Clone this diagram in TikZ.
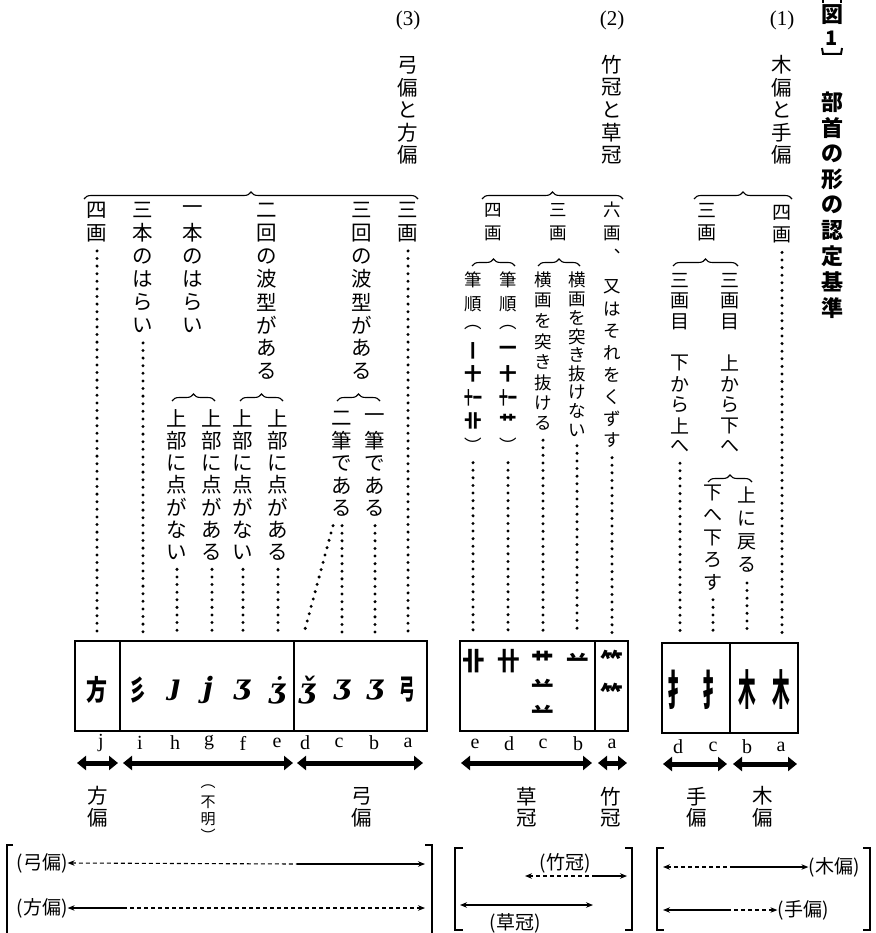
\documentclass[tikz,border=0pt]{standalone}
\usepackage{fontspec}
\usepackage{graphicx}
\setmainfont{Liberation Serif}
\newfontfamily\jp{Noto Sans CJK JP}
\newfontfamily\glf{DejaVu Serif}
\usetikzlibrary{arrows.meta,decorations.pathreplacing}
\makeatletter
\newcommand\vst[2]{\vbox{\offinterlineskip\@tfor\vch:=#2\do{\vbox to #1{\vss\hbox to 1em{\hss\vch\hss}\vss}}}}
\makeatother
\newcommand\gj[2][0.6]{\scalebox{#1}[1]{\jp\bfseries #2}}
\newcommand\gl[1]{{\glf\bfseries\itshape #1}}
\tikzset{
 vcol/.style={anchor=north, inner sep=0pt, font=\jp\fontsize{20.5}{20.5}\selectfont},
 vcolm/.style={anchor=north, inner sep=0pt, font=\jp\fontsize{19}{19}\selectfont},
 vcols/.style={anchor=north, inner sep=0pt, font=\jp\fontsize{17.5}{17.5}\selectfont},
 dotline/.style={line width=3.3pt, line cap=round, dash pattern=on 0pt off 7.6pt},
 brc/.style={decorate, decoration={brace, amplitude=7pt}, line width=1.1pt},
 bigarrow/.style={line width=5pt, {Triangle[length=9pt,width=14pt]}-{Triangle[length=9pt,width=14pt]}},
 lbl/.style={inner sep=0pt, font=\fontsize{21}{21}\selectfont},
 ltr/.style={inner sep=0pt, font=\fontsize{20}{20}\selectfont},
 gly/.style={inner sep=0pt, font=\fontsize{28}{28}\selectfont},
 gly2/.style={inner sep=0pt, font=\fontsize{25}{25}\selectfont},
 gly1/.style={inner sep=0pt, font=\fontsize{42}{42}\selectfont},
 bx/.style={line width=1.1pt},
 btxt/.style={inner sep=0pt, font=\jp\fontsize{19}{19}\selectfont},
 thinarr/.style={line width=1.1pt},
 dsh/.style={dash pattern=on 4pt off 3pt},
 tipl/.style={{Stealth[length=7pt,width=5.5pt]}-},
 tipr/.style={-{Stealth[length=7pt,width=5.5pt]}},
 tipb/.style={{Stealth[length=7pt,width=5.5pt]}-{Stealth[length=7pt,width=5.5pt]}},
 brk/.style={line width=1.3pt},
}
\begin{document}
\begin{tikzpicture}[x=1pt,y=-1pt]
\useasboundingbox (0,0) rectangle (875,933);

% ---------- title ----------
\node[inner sep=0pt, font=\jp\bfseries\fontsize{22}{22}\selectfont] (tz) at (832,15) {図};
\node[inner sep=0pt, font=\jp\bfseries\fontsize{20}{20}\selectfont] (tone) at (832,38) {1};
\draw[line width=2pt] (823,0) -- (823,3);
\draw[line width=2pt] (841,0) -- (841,3);
\draw[line width=2pt] (822,48) -- (823,54) -- (841,54) -- (842,48);
\node[anchor=north, inner sep=0pt, font=\jp\bfseries\fontsize{22}{22}\selectfont] (title) at (832,89.15) {\vst{25.7pt}{部首の形の認定基準}};

% ---------- headings ----------
\node[lbl] (n3) at (408,20) {(3)};
\node[lbl] (n2) at (612,20) {(2)};
\node[lbl] (n1) at (782,20) {(1)};
\node[vcol] (h3) at (408,53.75) {\vst{22.5pt}{弓偏と方偏}};
\node[vcol] (h2) at (612,53.75) {\vst{22.5pt}{竹冠と草冠}};
\node[vcol] (h1) at (782,53.75) {\vst{22.5pt}{木偏と手偏}};

% ---------- top braces ----------
\draw[brc] (84,199) -- (418,199);
\draw[brc] (482,199) -- (623,199);
\draw[brc] (694,199) -- (792,199);

% ---------- group 3 ----------
\coordinate (t3) at (0,633);
\node[vcol] (a3) at (408,198.5) {\vst{23pt}{三画}};
\node[vcol] (b3) at (362,198.5) {\vst{23pt}{三回の波型がある}};
\node[vcol] (ef3) at (267,198.5) {\vst{23pt}{二回の波型がある}};
\node[vcol] (gh3) at (193,198.5) {\vst{23pt}{一本のはらい}};
\node[vcol] (i3) at (143,198.5) {\vst{23pt}{三本のはらい}};
\node[vcol] (j3) at (97,198.5) {\vst{23pt}{四画}};

\draw[brc] (337,401) -- (380,401);
\draw[brc] (240,401) -- (283,401);
\draw[brc] (172,401) -- (215,401);

\node[vcol] (b3s) at (375,406.75) {\vst{22.5pt}{一筆である}};
\node[vcol] (cd3s) at (342,406.75) {\vst{22.5pt}{二筆である}};
\node[vcol] (e3s) at (278,406.85) {\vst{22.3pt}{上部に点がある}};
\node[vcol] (f3s) at (243,406.85) {\vst{22.3pt}{上部に点がない}};
\node[vcol] (g3s) at (212,406.85) {\vst{22.3pt}{上部に点がある}};
\node[vcol] (h3s) at (177,406.85) {\vst{22.3pt}{上部に点がない}};

\coordinate (d3top) at (304,633);
\draw[dotline] ([yshift=-6pt]a3.south) -- (a3.south |- t3);
\draw[dotline] ([yshift=-6pt]b3s.south) -- (b3s.south |- t3);
\draw[dotline] ([yshift=-6pt]cd3s.south) -- (cd3s.south |- t3);
\draw[dotline] ([xshift=-9pt,yshift=-6pt]cd3s.south) -- (d3top);
\draw[dotline] ([yshift=-6pt]e3s.south) -- (e3s.south |- t3);
\draw[dotline] ([yshift=-6pt]f3s.south) -- (f3s.south |- t3);
\draw[dotline] ([yshift=-6pt]g3s.south) -- (g3s.south |- t3);
\draw[dotline] ([yshift=-6pt]h3s.south) -- (h3s.south |- t3);
\draw[dotline] ([yshift=-6pt]i3.south) -- (i3.south |- t3);
\draw[dotline] ([yshift=-6pt]j3.south) -- (j3.south |- t3);

\draw[bx] (75,641) rectangle (427,731);
\draw[bx] (120,641) -- (120,731);
\draw[bx] (294,641) -- (294,731);

\node[gly] (g3j) at (97,690) {\gj[0.75]{方}};
\node[gly] (g3i) at (138,690) {\gj[0.6]{彡}};
\node[gly] (g3h) at (175,690) {\gl{ȷ}};
\node[gly] (g3g) at (208,690) {\gl{j}};
\node[gly] (g3f) at (242,690) {\gl{ʒ}};
\node[gly] (g3e) at (277,690) {\gl{ʒ̇}};
\node[gly] (g3d) at (307,690) {\gl{ǯ}};
\node[gly] (g3c) at (342,690) {\gl{ʒ}};
\node[gly] (g3b) at (375,690) {\gl{ʒ}};
\node[gly] (g3a) at (407,690) {\gj[0.55]{弓}};

\node[ltr] (l3j) at (101,743) {j};
\node[ltr] (l3i) at (140,743) {i};
\node[ltr] (l3h) at (175,743) {h};
\node[ltr] (l3g) at (209,743) {g};
\node[ltr] (l3f) at (243,743) {f};
\node[ltr] (l3e) at (277,743) {e};
\node[ltr] (l3d) at (305,743) {d};
\node[ltr] (l3c) at (339,743) {c};
\node[ltr] (l3b) at (374,743) {b};
\node[ltr] (l3a) at (408,743) {a};

\coordinate (r3a) at (77,763); \coordinate (r3b) at (118,763);
\coordinate (r3c) at (123,763); \coordinate (r3d) at (293,763);
\coordinate (r3e) at (297,763); \coordinate (r3f) at (423,763);
\draw[bigarrow] (r3a) -- (r3b);
\draw[bigarrow] (r3c) -- (r3d);
\draw[bigarrow] (r3e) -- (r3f);

\node[vcol] (L3j) at (98,785) {\vst{22pt}{方偏}};
\node[anchor=north, inner sep=0pt, font=\jp\fontsize{15}{15}\selectfont] (L3m) at (208,777.75) {\vst{16.5pt}{︵不明︶}};
\node[vcol] (L3a) at (362,785) {\vst{22pt}{弓偏}};

% ---------- group 2 ----------
\coordinate (t2) at (0,635);
\node[vcols] (a2h) at (612,198.5) {\vst{23pt}{六画︑}};
\node[vcols] (a2) at (612,276.05) {\vst{21.9pt}{又はそれをくずす}};
\node[vcols] (c2h) at (558,198.5) {\vst{23pt}{三画}};
\node[vcols] (e2h) at (493,198.5) {\vst{23pt}{四画}};
\draw[brc] (538,266) -- (580,266);
\draw[brc] (472,266) -- (515,266);
\node[vcols] (b2) at (577,270.6) {\vst{18.75pt}{横画を突き抜けない}};
\node[vcols] (c2) at (543,269.75) {\vst{20.5pt}{横画を突き抜ける}};
\node[vcols] (d2) at (508,268.25) {\vst{23.5pt}{筆順︵{\bfseries 一}{\bfseries 十}{\bfseries\scalebox{0.5}[1]{十一}}{\bfseries 艹}︶}};
\node[vcols] (e2) at (473,268.25) {\vst{23.5pt}{筆順︵{\bfseries 丨}{\bfseries 十}{\bfseries\scalebox{0.5}[1]{十一}}{\bfseries 卝}︶}};

\draw[dotline] ([yshift=-6pt]a2.south) -- (a2.south |- t2);
\draw[dotline] ([yshift=-6pt]b2.south) -- (b2.south |- t2);
\draw[dotline] ([yshift=-6pt]c2.south) -- (c2.south |- t2);
\draw[dotline] ([yshift=-6pt]d2.south) -- (d2.south |- t2);
\draw[dotline] ([yshift=-6pt]e2.south) -- (e2.south |- t2);

\draw[bx] (460,641) rectangle (628,731);
\draw[bx] (595,641) -- (595,731);

\node[gly2] (g2e) at (474,661) {\gj[0.9]{卝}};
\node[gly2] (g2d) at (509,661) {\gj[0.9]{卄}};
\node[gly2] (g2c1) at (543,661) {\gj[0.9]{艹}};
\node[gly2] (g2c2) at (543,687) {\gj[0.9]{䒑}};
\node[gly2] (g2c3) at (543,713) {\gj[0.9]{䒑}};
\node[gly2] (g2b) at (578,661) {\gj[0.9]{䒑}};
\node[gly2] (g2a1) at (612,661) {\gj[0.9]{⺮}};
\node[gly2] (g2a2) at (612,694) {\gj[0.9]{⺮}};

\node[ltr] (l2e) at (475,744) {e};
\node[ltr] (l2d) at (509,744) {d};
\node[ltr] (l2c) at (543,744) {c};
\node[ltr] (l2b) at (578,744) {b};
\node[ltr] (l2a) at (612,744) {a};

\coordinate (r2a) at (461,763); \coordinate (r2b) at (592,763);
\coordinate (r2c) at (598,763); \coordinate (r2d) at (627,763);
\draw[bigarrow] (r2a) -- (r2b);
\draw[bigarrow] (r2c) -- (r2d);

\node[vcol] (L2e) at (527,785) {\vst{22pt}{草冠}};
\node[vcol] (L2a) at (611,785) {\vst{22pt}{竹冠}};

% ---------- group 1 ----------
\coordinate (t1) at (0,636);
\node[vcolm] (a1) at (782,202) {\vst{22pt}{四画}};
\node[vcolm] (h1b) at (707,198.5) {\vst{23pt}{三画}};
\draw[brc] (673,266) -- (738,266);
\node[vcolm] (bc1) at (730,269.6) {\vst{20.8pt}{三画目{~}上から下へ}};
\node[vcolm] (d1) at (680,269.6) {\vst{20.8pt}{三画目{~}下から上へ}};
\draw[brc] (708,482) -- (752,482);
\node[vcolm] (b1) at (747,483.35) {\vst{23.3pt}{上に戻る}};
\node[vcolm] (c1) at (713,481.85) {\vst{22.3pt}{下へ下ろす}};

\draw[dotline] ([yshift=-6pt]a1.south) -- (a1.south |- t1);
\draw[dotline] ([yshift=-6pt]b1.south) -- (b1.south |- t1);
\draw[dotline] ([yshift=-6pt]c1.south) -- (c1.south |- t1);
\draw[dotline] ([yshift=-6pt]d1.south) -- (d1.south |- t1);

\draw[bx] (662,643) rectangle (798,733);
\draw[bx] (730,643) -- (730,733);

\node[gly1] (g1d) at (678,690) {\gj[0.5]{扌}};
\node[gly1] (g1c) at (713,690) {\gj[0.5]{扌}};
\node[gly1] (g1b) at (747,690) {\gj[0.42]{木}};
\node[gly1] (g1a) at (781,690) {\gj[0.42]{木}};

\node[ltr] (l1d) at (678,747) {d};
\node[ltr] (l1c) at (713,747) {c};
\node[ltr] (l1b) at (747,747) {b};
\node[ltr] (l1a) at (781,747) {a};

\coordinate (r1a) at (663,764); \coordinate (r1b) at (727,764);
\coordinate (r1c) at (733,764); \coordinate (r1d) at (797,764);
\draw[bigarrow] (r1a) -- (r1b);
\draw[bigarrow] (r1c) -- (r1d);

\node[vcol] (L1d) at (697,785) {\vst{22pt}{手偏}};
\node[vcol] (L1a) at (763,785) {\vst{22pt}{木偏}};

% ---------- bottom brackets ----------
\draw[brk] (13,845) -- (7,845) -- (7,933);
\draw[brk] (425,845) -- (432,845) -- (432,933);
\node[btxt] (bk3a) at (42,863) {(弓偏)};
\node[btxt] (bk3j) at (42,908) {(方偏)};
\coordinate (u3m) at (297,864); \coordinate (u3e) at (425,864);
\coordinate (v3m) at (123,908); \coordinate (v3e) at (425,908);
\draw[thinarr, dsh, tipl] (bk3a.east) -- (u3m);
\draw[thinarr, tipr] (u3m) -- (u3e);
\draw[thinarr, tipl] (bk3j.east) -- (v3m);
\draw[thinarr, dsh, tipr] (v3m) -- (v3e);

\draw[brk] (463,848) -- (455,848) -- (455,930) -- (463,930);
\draw[brk] (625,848) -- (632,848) -- (632,930) -- (625,930);
\node[btxt] (bk2a) at (565,863) {(竹冠)};
\node[btxt] (bk2e) at (515,923) {(草冠)};
\coordinate (u2s) at (525,876); \coordinate (u2m) at (594,876); \coordinate (u2e) at (627,876);
\coordinate (v2s) at (460,905); \coordinate (v2e) at (593,905);
\draw[thinarr, dsh, tipl] (u2s) -- (u2m);
\draw[thinarr, tipr] (u2m) -- (u2e);
\draw[thinarr, tipb] (v2s) -- (v2e);

\draw[brk] (664,848) -- (657,848) -- (657,930) -- (664,930);
\draw[brk] (863,848) -- (870,848) -- (870,930) -- (863,930);
\node[btxt] (bk1a) at (834,867) {(木偏)};
\node[btxt] (bk1d) at (803,910) {(手偏)};
\coordinate (u1s) at (663,867); \coordinate (u1m) at (730,867);
\coordinate (v1s) at (663,910); \coordinate (v1m) at (727,910);
\draw[thinarr, dsh, tipl] (u1s) -- (u1m);
\draw[thinarr, tipr] (u1m) -- (bk1a.west);
\draw[thinarr, tipl] (v1s) -- (v1m);
\draw[thinarr, dsh, tipr] (v1m) -- (bk1d.west);
\end{tikzpicture}
\end{document}
